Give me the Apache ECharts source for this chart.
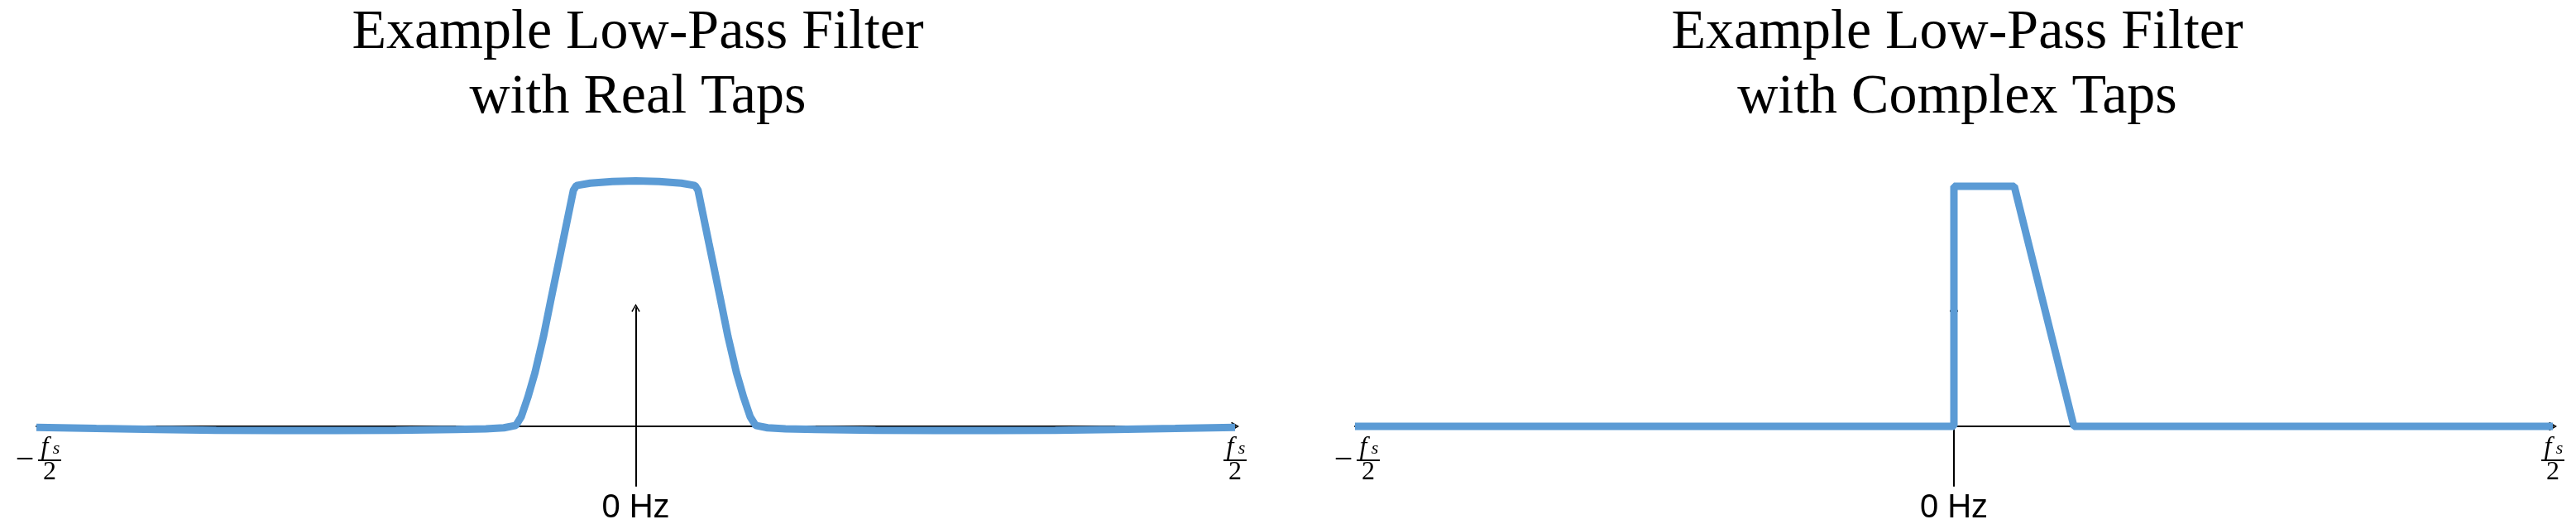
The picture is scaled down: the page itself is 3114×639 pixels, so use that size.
<!DOCTYPE html>
<html>
  <head>
    <meta charset="utf-8" />
    <title>Low-Pass Filter</title>
    <script src="https://cdn.jsdelivr.net/npm/echarts@6/dist/echarts.min.js"></script>
    <style>
      html, body { margin: 0; padding: 0; background: #fff; }
    </style>
  </head>
  <body>
    <div id="main" style="width: 3114px; height: 639px"></div>
    <script type="text/javascript">
      // titles
      var titleReal = "Example Low-Pass Filter\nwith Real Taps";
      var titleComplex = "Example Low-Pass Filter\nwith Complex Taps";
      var centerLabel = "0 Hz";

      // frequency axis runs from -fs/2 to fs/2, normalised to -1..1
      var tickValues = [-1, 0, 1];

      // real taps: symmetric response
      var realFreq = [-1, -0.9, -0.8, -0.7, -0.6, -0.5, -0.4, -0.3, -0.25, -0.22, -0.2, -0.191, -0.18, -0.168, -0.154, -0.141, -0.122, -0.104, -0.099, -0.076, -0.039, 0,
        0.039, 0.076, 0.099, 0.104, 0.122, 0.141, 0.154, 0.168, 0.18, 0.191, 0.2, 0.22, 0.25, 0.3, 0.4, 0.5, 0.6, 0.7, 0.8, 0.9, 1];
      var realGain = [-0.004, -0.009, -0.013, -0.016, -0.017, -0.017, -0.016, -0.013, -0.010, -0.006, 0.004, 0.040, 0.121, 0.224, 0.373, 0.534, 0.764, 0.983, 1.003, 1.013, 1.020, 1.022,
        1.020, 1.013, 1.003, 0.983, 0.764, 0.534, 0.373, 0.224, 0.121, 0.040, 0.004, -0.006, -0.010, -0.013, -0.016, -0.017, -0.017, -0.016, -0.013, -0.009, -0.004];

      // complex taps: one-sided response
      var complexFreq = [-1, 0, 0, 0.1008, 0.2003, 1];
      var complexGain = [0, 0, 1, 1, 0, 0];

      var myChart = echarts.init(document.getElementById("main"));

      var blue = "#5B9BD5";
      var arrowPath = "path://M5,0 L10,8.6 L8.9,9.6 L5,2.8 L1.1,9.6 L0,8.6 Z";

      function pair(xs, ys) {
        var out = [];
        for (var i = 0; i < xs.length; i++) out.push([xs[i], ys[i]]);
        return out;
      }

      var fracRich = {
        pad: { width: 32, fontSize: 2, lineHeight: 24 },
        m: { width: 32, align: "center", fontSize: 40, lineHeight: 6, fontFamily: "Liberation Serif", color: "#000" },
        f: { width: 16, align: "right", fontSize: 32, lineHeight: 24, fontStyle: "italic", fontFamily: "Liberation Serif", color: "#000" },
        s: { width: 12, align: "left", fontSize: 22, lineHeight: 24, verticalAlign: "bottom", fontStyle: "italic", fontFamily: "Liberation Serif", color: "#000", padding: [6, 0, 0, 0] },
        bar: { width: 28, height: 2, lineHeight: 6, fontSize: 2, backgroundColor: "#000" },
        two: { width: 28, align: "center", fontSize: 32, lineHeight: 24, fontFamily: "Liberation Serif", color: "#000" }
      };

      function tickLabel(v) {
        if (v < 0) return "{pad| }{f|f}{s|s}\n{m|\u2212}{bar| }\n{pad| }{two|2}";
        if (v > 0) return "{f|f}{s|s}\n{bar| }\n{two|2}";
        return "";
      }

      function makeX(idx) {
        return {
          gridIndex: idx,
          type: "value",
          min: tickValues[0],
          max: tickValues[tickValues.length - 1],
          interval: 1,
          splitLine: { show: false },
          axisTick: { show: false },
          axisLine: {
            lineStyle: { color: "#000", width: 2 },
            symbol: ["none", arrowPath],
            symbolSize: [14, 10]
          },
          axisLabel: {
            formatter: tickLabel,
            // labels sit at the grid bottom, pull them up under the zero line
            margin: -31,
            verticalAlign: "middle",
            showMinLabel: true,
            showMaxLabel: true,
            rich: fracRich
          }
        };
      }

      function makeY(idx) {
        return {
          gridIndex: idx,
          type: "value",
          min: -72 / 290,
          max: 143 / 290,
          splitLine: { show: false },
          axisTick: { show: false },
          axisLabel: { show: false },
          axisLine: {
            lineStyle: { color: "#000", width: 2 },
            symbol: ["none", arrowPath],
            symbolSize: [14, 10]
          },
          name: centerLabel,
          nameLocation: "start",
          nameGap: 27,
          nameTextStyle: {
            fontFamily: "Liberation Sans",
            fontSize: 40,
            color: "#000",
            align: "center",
            verticalAlign: "middle"
          }
        };
      }

      var titleStyle = {
        fontFamily: "Liberation Serif",
        fontSize: 68,
        fontWeight: "normal",
        lineHeight: 78,
        color: "#000"
      };

      var option = {
        animation: false,
        title: [
          { text: titleReal, left: 771, top: 1, textAlign: "center", textStyle: titleStyle, padding: 0 },
          { text: titleComplex, left: 2366, top: 1, textAlign: "center", textStyle: titleStyle, padding: 0 }
        ],
        grid: [
          { left: 44, width: 1449, top: 372, height: 215, containLabel: false, outerBoundsMode: "none" },
          { left: 1638, width: 1448, top: 372, height: 215, containLabel: false, outerBoundsMode: "none" }
        ],
        xAxis: [makeX(0), makeX(1)],
        yAxis: [makeY(0), makeY(1)],
        series: [
          {
            name: "Real Taps",
            type: "line",
            xAxisIndex: 0,
            yAxisIndex: 0,
            data: pair(realFreq, realGain),
            showSymbol: false,
            clip: false,
            lineStyle: { color: blue, width: 9 }
          },
          {
            name: "Complex Taps",
            type: "line",
            xAxisIndex: 1,
            yAxisIndex: 1,
            data: pair(complexFreq, complexGain),
            showSymbol: false,
            clip: false,
            lineStyle: { color: blue, width: 9 }
          }
        ]
      };

      myChart.setOption(option);
    </script>
  </body>
</html>
